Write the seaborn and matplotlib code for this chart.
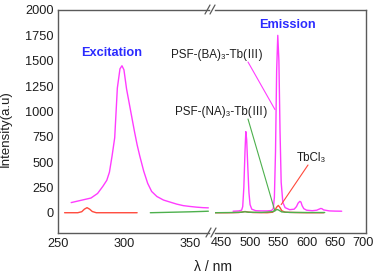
import matplotlib
matplotlib.use("Agg")
import matplotlib.pyplot as plt
from matplotlib.lines import Line2D
from matplotlib.ticker import MultipleLocator
import seaborn as sns
import pandas as pd

# ---------------- data ----------------
# excitation segment (left)
ex_wl = [260, 265, 270, 275, 280, 284, 287, 289, 291, 293, 295, 297, 298.5, 300, 302,
         304, 306, 308, 310, 312, 315, 318, 321, 325, 330, 335, 340, 345, 350, 355, 360, 364]
ex_ba = [100, 115, 130, 145, 190, 260, 320, 400, 560, 740, 1230, 1420, 1450, 1410, 1220,
         1080, 940, 800, 670, 560, 410, 290, 210, 160, 125, 105, 85, 70, 62, 55, 50, 48]
ex_tb_wl = [255, 265, 268, 270, 272, 274, 276, 279, 285, 300, 310]
ex_tb = [0, 0, 10, 35, 50, 35, 12, 0, 0, 0, 0]
ex_na_wl = [320, 330, 340, 350, 360, 364]
ex_na = [0, 3, 6, 9, 13, 15]

# emission segment (right)
em_ba_wl = [470, 480, 485, 487, 489, 491, 492.5, 494, 496, 498, 500, 503, 510, 520, 530, 538,
            541, 543, 545, 547, 549, 551, 553, 555, 558, 562, 570, 578, 582, 585, 588, 590,
            592, 595, 600, 610, 618, 622, 625, 627, 630, 640, 650, 662]
em_ba = [15, 18, 25, 60, 250, 600, 800, 720, 450, 200, 80, 35, 20, 18, 18, 22,
         40, 150, 600, 1400, 1750, 1500, 800, 300, 100, 50, 30, 35, 60, 95, 112, 105,
         70, 40, 25, 20, 25, 35, 42, 40, 28, 18, 16, 15]
em_tb_wl = [438, 460, 480, 487, 491, 495, 505, 530, 540, 544, 547, 550, 553, 556, 562, 580, 600, 630]
em_tb = [0, 0, 2, 8, 12, 8, 2, 0, 5, 25, 55, 72, 50, 20, 5, 2, 0, 0]
em_na_wl = [438, 470, 485, 491, 497, 520, 540, 545, 548, 551, 556, 570, 600, 632]
em_na = [0, 2, 5, 10, 5, 3, 10, 25, 32, 25, 8, 3, 2, 2]

left_ticks = [250, 300, 350]
right_ticks = [450, 500, 550, 600, 650, 700]
y_ticks = [0, 250, 500, 750, 1000, 1250, 1500, 1750, 2000]

label_ba = "PSF-(BA)₃-Tb(Ⅲ)"
label_na = "PSF-(NA)₃-Tb(Ⅲ)"
label_tb = "TbCl₃"

# ---------------- style ----------------
sns.set_style("white")
FAM = ['Liberation Sans', 'Noto Sans CJK SC', 'DejaVu Sans']
plt.rcParams['font.family'] = FAM

PINK = "#ff3cff"
RED = "#ff4a3c"
GREEN = "#4db04d"
AXC = "#5a5a5a"
TXT = "#1e1e1e"

W, H = 378, 275
fig = plt.figure(figsize=(W / 100, H / 100), dpi=100)

def fx(px):
    return px / W

def fy(py):
    return 1 - py / H

ax_top, ax_bot = 10, 233
axL = fig.add_axes([fx(58), fy(ax_bot), fx(209 - 58), (ax_bot - ax_top) / H])
axR = fig.add_axes([fx(215), fy(ax_bot), fx(366 - 215), (ax_bot - ax_top) / H])

def line(ax, x, y, c):
    df = pd.DataFrame({"x": x, "y": y})
    sns.lineplot(data=df, x="x", y="y", ax=ax, color=c, lw=1.0, sort=False)

line(axL, ex_wl, ex_ba, PINK)
line(axL, ex_tb_wl, ex_tb, RED)
line(axL, ex_na_wl, ex_na, GREEN)
line(axR, em_ba_wl, em_ba, PINK)
line(axR, em_tb_wl, em_tb, RED)
line(axR, em_na_wl, em_na, GREEN)

axL.set_xlim(250, 364.5)
axR.set_xlim(438, 705)
for ax in (axL, axR):
    ax.set_ylim(-200, 2000)
    ax.set_xlabel("")
    ax.set_ylabel("")
    for s in ax.spines.values():
        s.set_color(AXC)
        s.set_linewidth(1.0)
    ax.tick_params(which='both', direction='in', colors=AXC, labelcolor=TXT,
                   labelsize=9.2, width=0.8)
    ax.tick_params(which='major', length=4)
    ax.tick_params(which='minor', length=2)

axL.set_xticks(left_ticks)
axL.xaxis.set_minor_locator(MultipleLocator(25))
axL.set_yticks(y_ticks)
axL.yaxis.set_minor_locator(MultipleLocator(125))
axL.spines['right'].set_visible(False)
axL.tick_params(axis='y', pad=3)

axR.set_xticks(right_ticks)
axR.xaxis.set_minor_locator(MultipleLocator(25))
axR.set_yticks([])
axR.spines['left'].set_visible(False)
axR.tick_params(axis='x', pad=3)

# axis labels
axL.set_ylabel("Intensity(a.u)", fontsize=9.5, color=TXT)
axL.yaxis.set_label_coords(-0.305, 0.466)
fig.text(fx(213), fy(267), "λ / nm", ha='center', va='center', fontsize=10, color=TXT)

# break marks
for (x0, y0) in [(205, 14), (210, 14), (206, 237), (211, 237)]:
    fig.add_artist(Line2D([fx(x0), fx(x0 + 5)], [fy(y0), fy(y0 - 9)],
                          transform=fig.transFigure, color=AXC, lw=0.9))

# titles
fig.text(fx(112), fy(53), "Excitation", ha='center', va='center', fontsize=9.2,
         fontweight='bold', color="#2b2bff")
fig.text(fx(287), fy(25), "Emission", ha='center', va='center', fontsize=9.2,
         fontweight='bold', color="#2b2bff")

# annotations
fig.text(fx(171), fy(55), label_ba, ha='left', va='center', fontsize=8.4, color=TXT)
fig.text(fx(175), fy(112), label_na, ha='left', va='center', fontsize=8.4, color=TXT)
fig.text(fx(297), fy(158), label_tb, ha='left', va='center', fontsize=8.4, color=TXT)

axR.annotate("", xy=(544, 1018), xycoords='data', xytext=(fx(248), fy(62)),
             textcoords='figure fraction',
             arrowprops=dict(arrowstyle='-', color=PINK, lw=0.8, shrinkA=0, shrinkB=0))
axR.annotate("", xy=(544, 15), xycoords='data', xytext=(fx(248), fy(119)),
             textcoords='figure fraction',
             arrowprops=dict(arrowstyle='-', color=GREEN, lw=0.8, shrinkA=0, shrinkB=0))
axR.annotate("", xy=(555, 80), xycoords='data', xytext=(fx(308), fy(165)),
             textcoords='figure fraction',
             arrowprops=dict(arrowstyle='-', color=RED, lw=0.8, shrinkA=0, shrinkB=0))

fig.savefig("out.png", dpi=100)
